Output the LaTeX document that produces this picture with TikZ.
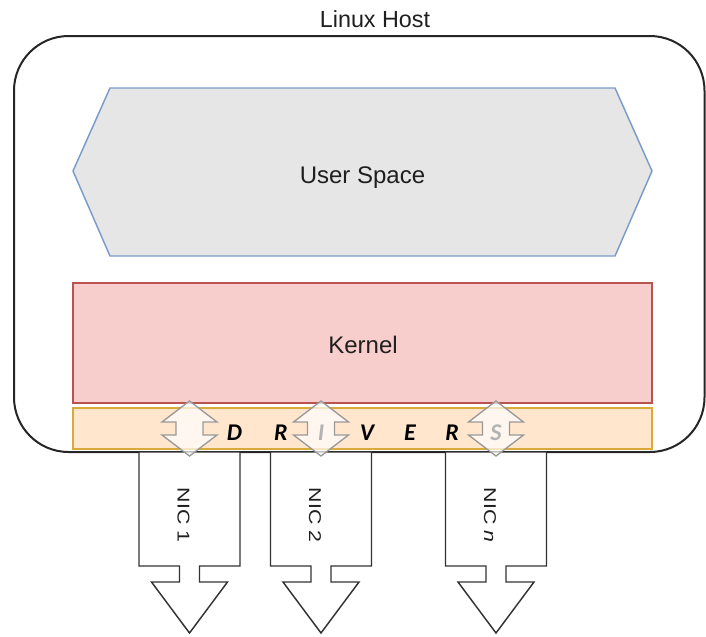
\documentclass[tikz,border=0pt]{standalone}
\usepackage{fontspec}
\setmainfont{Liberation Sans}
\newfontfamily\drvfont{Carlito}
\definecolor{txt}{HTML}{1F1F1F}
\definecolor{userfill}{HTML}{E6E6E6}
\definecolor{userdraw}{HTML}{7A9CCB}
\definecolor{kernfill}{HTML}{F8CECC}
\definecolor{kerndraw}{HTML}{B85450}
\definecolor{drvfill}{HTML}{FFE6CC}
\definecolor{drvdraw}{HTML}{D9A93A}
\begin{document}
\begin{tikzpicture}[x=0.75pt,y=-0.75pt,
  hostbox/.style={draw=black!85, line width=1.5pt, fill=white, rounded corners=41pt},
  userbox/.style={draw=userdraw, line width=1.1pt, fill=userfill},
  kernelbox/.style={draw=kerndraw, line width=1.1pt, fill=kernfill},
  drvbox/.style={draw=drvdraw, line width=1.4pt, fill=drvfill},
  nicarrow/.style={draw=black!80, line width=1.1pt, fill=white, line join=miter},
  dblarrow/.style={draw=black!40, line width=1pt, fill=white, fill opacity=0.7},
  lbl/.style={text=txt, font=\fontsize{18}{20}\selectfont, inner sep=0pt},
  drvletter/.style={text=black, font=\drvfont\bfseries\itshape\fontsize{18}{20}\selectfont, inner sep=0pt, anchor=base},
  niclbl/.style={text=txt, font=\fontsize{16}{18}\selectfont, inner sep=0pt, rotate=-90}
]
\useasboundingbox (0,0) rectangle (706,636);

% host
\node[lbl, font=\fontsize{17.5}{20}\selectfont] (hostlbl) at (375,19) {Linux Host};
\draw[hostbox] (14,36) rectangle (704.5,452);

% user space
\draw[userbox] (73,171) -- (110,88) -- (615,88) -- (652,171) -- (615,256) -- (110,256) -- cycle;
\node[lbl, anchor=base] (userlbl) at (362.5,183) {User Space};

% kernel
\draw[kernelbox] (73,283) rectangle (652,403);
\node[lbl, anchor=base] (kernlbl) at (363,353) {Kernel};

% drivers
\draw[drvbox] (73,408) rectangle (652,449);
\foreach \x/\l/\n in {234.5/D/d1, 281/R/d2, 321/I/d3, 367/V/d4, 410/E/d5, 452/R/d6, 496/S/d7}
  \node[drvletter] (\n) at (\x,440) {\l};

% NIC arrows
\foreach \c/\lab/\nm in {189.5/{NIC 1}/nic1, 321/{NIC 2}/nic2, 496/{NIC \textit{n}}/nicn} {
  \draw[nicarrow] (\c-50.5,452) -- (\c-50.5,566) -- (\c-10,566) -- (\c-10,582)
    -- (\c-38,582) -- (\c,633) -- (\c+38,582) -- (\c+10,582) -- (\c+10,566)
    -- (\c+50.5,566) -- (\c+50.5,452) -- cycle;
  \node[niclbl] (\nm) at (\c-6,515) {\scalebox{1}[0.8]{\lab}};
}

% double arrows across the driver band
\foreach \c in {189.5,321,496}
  \draw[dblarrow] (\c,401) -- (\c+27.5,422) -- (\c+13.5,422) -- (\c+13.5,435)
    -- (\c+27.5,435) -- (\c,456) -- (\c-27.5,435) -- (\c-13.5,435)
    -- (\c-13.5,422) -- (\c-27.5,422) -- cycle;
\end{tikzpicture}
\end{document}
